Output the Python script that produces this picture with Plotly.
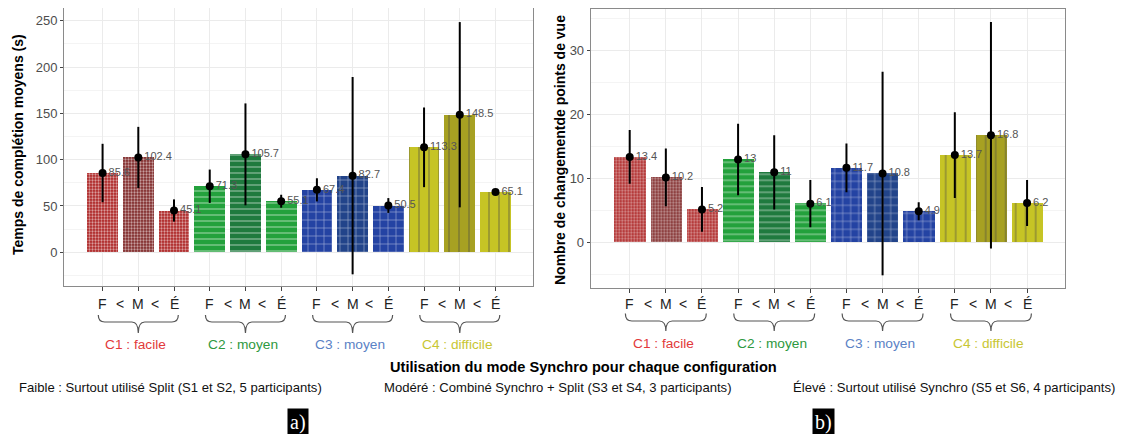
import plotly.graph_objects as go

# ---------------- data ----------------
groups = ["C1 : facile", "C2 : moyen", "C3 : moyen", "C4 : difficile"]
levels = ["F", "M", "É"]
time_means = [85.6, 102.4, 45.1, 71.3, 105.7, 55.1, 67.4, 82.7, 50.5, 113.3, 148.5, 65.1]
time_err = [31.5, 33.0, 12.0, 18.0, 55.0, 7.0, 12.5, 106.5, 8.0, 43.0, 100.0, 2.0]
views_means = [13.4, 10.2, 5.2, 13.0, 11.0, 6.1, 11.7, 10.8, 4.9, 13.7, 16.8, 6.2]
views_err = [4.2, 4.5, 3.5, 5.6, 5.8, 3.7, 3.8, 15.9, 1.4, 6.7, 17.7, 3.6]
left_ticks = [0, 50, 100, 150, 200, 250]
right_ticks = [0, 10, 20, 30]

# ---------------- styles ----------------
group_colors = ["#AC2323", "#23A13C", "#2443A3", "#C6C425"]
group_mid_colors = ["#7F2828", "#1F7A3E", "#22448A", "#A7A122"]
label_colors = ["#E2393A", "#2E9940", "#5B82C5", "#C8C632"]
pattern_shapes = [".", "-", "+", "|"]
pattern_sizes = [3, 6, 8, 10]
pattern_solid = [0.45, 0.18, 0.15, 0.12]

# page has an 8px body margin: figure is drawn 8px in from the window edge
OFF = 8
W, H = 1124 - OFF, 434 - OFF


def px(x):
    return (x - OFF) / W


def py(y):
    return 1 - (y - OFF) / H


n = len(time_means)
xs = list(range(n))
bar_colors, pshape, psize, psolid = [], [], [], []
for g in range(len(groups)):
    for k in range(len(levels)):
        bar_colors.append(group_mid_colors[g] if k == 1 else group_colors[g])
        pshape.append(pattern_shapes[g])
        psize.append(pattern_sizes[g])
        psolid.append(pattern_solid[g])

fig = go.Figure()


def add_panel(means, errs, xa, ya):
    fig.add_trace(go.Bar(
        x=xs, y=means, width=0.86, xaxis=xa, yaxis=ya,
        marker=dict(color=bar_colors, line=dict(width=0),
                    pattern=dict(shape=pshape, size=psize, solidity=psolid,
                                 fgcolor="white", fgopacity=0.55, fillmode="overlay")),
        showlegend=False, hoverinfo="skip"))
    fig.add_trace(go.Scatter(
        x=xs, y=means, xaxis=xa, yaxis=ya, mode="markers+text",
        marker=dict(color="black", size=8),
        error_y=dict(type="data", array=errs, color="black", thickness=2, width=0),
        text=[f"{v:g}" for v in means], textposition="middle right",
        textfont=dict(family="Liberation Sans, Arial", size=11, color="#555555"),
        showlegend=False))


add_panel(time_means, time_err, "x", "y")
add_panel(views_means, views_err, "x2", "y2")

axis_common = dict(showline=True, mirror=True, linecolor="#8a8a8a", linewidth=1,
                   gridcolor="#EBEBEB", gridwidth=1, zeroline=False,
                   ticks="outside", tickcolor="#444444", ticklen=3,
                   tickfont=dict(family="Liberation Sans, Arial", size=13, color="#4D4D4D"))

xdoms = [[px(64), px(533)], [px(590.7), px(1065)]]
ydoms = [[py(286), py(8)], [py(288), py(9.3)]]
yranges = [[-36.4, 263.7], [-7.08, 36.47]]
ydt = [50, 10]
yticks = [left_ticks, right_ticks]

for i in range(2):
    sfx = "" if i == 0 else str(i + 1)
    fig.layout["xaxis" + sfx] = dict(axis_common, domain=xdoms[i], range=[-1.08, n - 1 + 1.05],
                                     tickvals=xs, ticktext=[""] * n, ticklen=4,
                                     anchor="y" + sfx, fixedrange=True)
    fig.layout["yaxis" + sfx] = dict(axis_common, domain=ydoms[i], range=yranges[i],
                                     tickvals=yticks[i], anchor="x" + sfx,
                                     minor=dict(dtick=ydt[i] / 2, tick0=0, showgrid=True,
                                                gridcolor="#F4F4F4", ticks=""))

annotations = []
shapes = []
font = "Liberation Sans, Arial, sans-serif"
C = dict(xanchor="center", yanchor="middle", showarrow=False)
tick_y = [py(304), py(303.5)]
brace_y = [(py(315), py(322), py(333)), (py(313.5), py(321), py(331))]
glabel_y = [py(344), py(343)]
for i in range(2):
    xref = "x" if i == 0 else "x2"
    for g in range(len(groups)):
        base = g * 3
        seq = [(levels[0], 0), ("<", 0.5), (levels[1], 1), ("<", 1.47), (levels[2], 2)]
        for t, off in seq:
            annotations.append(dict(C, x=base + off, y=tick_y[i], xref=xref, yref="paper",
                                    text=t, font=dict(family=font, size=14, color="#222222")))
        x0, x1, xm = base - 0.12, base + 2.12, base + 1.0
        yt, ymid, ytip = brace_y[i]
        c = 0.18
        path = (f"M {x0},{yt} Q {x0},{ymid} {x0 + c},{ymid} L {xm - c},{ymid} "
                f"Q {xm},{ymid} {xm},{ytip} Q {xm},{ymid} {xm + c},{ymid} "
                f"L {x1 - c},{ymid} Q {x1},{ymid} {x1},{yt}")
        shapes.append(dict(type="path", path=path, xref=xref, yref="paper",
                           line=dict(color="#555555", width=1.2)))
        annotations.append(dict(C, x=base + 0.93, y=glabel_y[i], xref=xref, yref="paper",
                                text=groups[g],
                                font=dict(family=font, size=13.7, color=label_colors[g])))

# axis titles
annotations.append(dict(C, x=px(18), y=py(145), xref="paper", yref="paper", textangle=-90,
                        text="<b>Temps de complétion moyens (s)</b>",
                        font=dict(family=font, size=14, color="black")))
annotations.append(dict(C, x=px(560), y=py(150), xref="paper", yref="paper", textangle=-90,
                        text="<b>Nombre de changementde points de vue</b>",
                        font=dict(family=font, size=14, color="black")))
annotations.append(dict(C, x=px(583), y=py(367), xref="paper", yref="paper",
                        text="<b>Utilisation du mode Synchro pour chaque configuration</b>",
                        font=dict(family=font, size=14.6, color="black")))
legend_texts = ["Faible : Surtout utilisé Split (S1 et S2, 5 participants)",
                "Modéré : Combiné Synchro + Split (S3 et S4, 3 participants)",
                "Élevé : Surtout utilisé Synchro (S5 et S6, 4 participants)"]
legend_x = [17, 381.5, 1117]
legend_anchor = ["left", "left", "right"]
for t, lx, xa in zip(legend_texts, legend_x, legend_anchor):
    annotations.append(dict(C, x=px(lx), y=py(387), xref="paper", yref="paper",
                            text=t, font=dict(family=font, size=13.1, color="#111111")))
    annotations[-1]["xanchor"] = xa
for t, cx in [("a)", 298), ("b)", 823.5)]:
    annotations.append(dict(C, x=px(cx), y=py(422), xref="paper", yref="paper", text=t,
                            bgcolor="black", borderpad=2,
                            font=dict(family="Liberation Serif, DejaVu Serif, serif", size=20,
                                      color="white")))

fig.update_layout(width=W, height=H, margin=dict(l=0, r=0, t=0, b=0),
                  paper_bgcolor="white", plot_bgcolor="white", bargap=0,
                  annotations=annotations, shapes=shapes, showlegend=False)

fig.write_html("out.html")
